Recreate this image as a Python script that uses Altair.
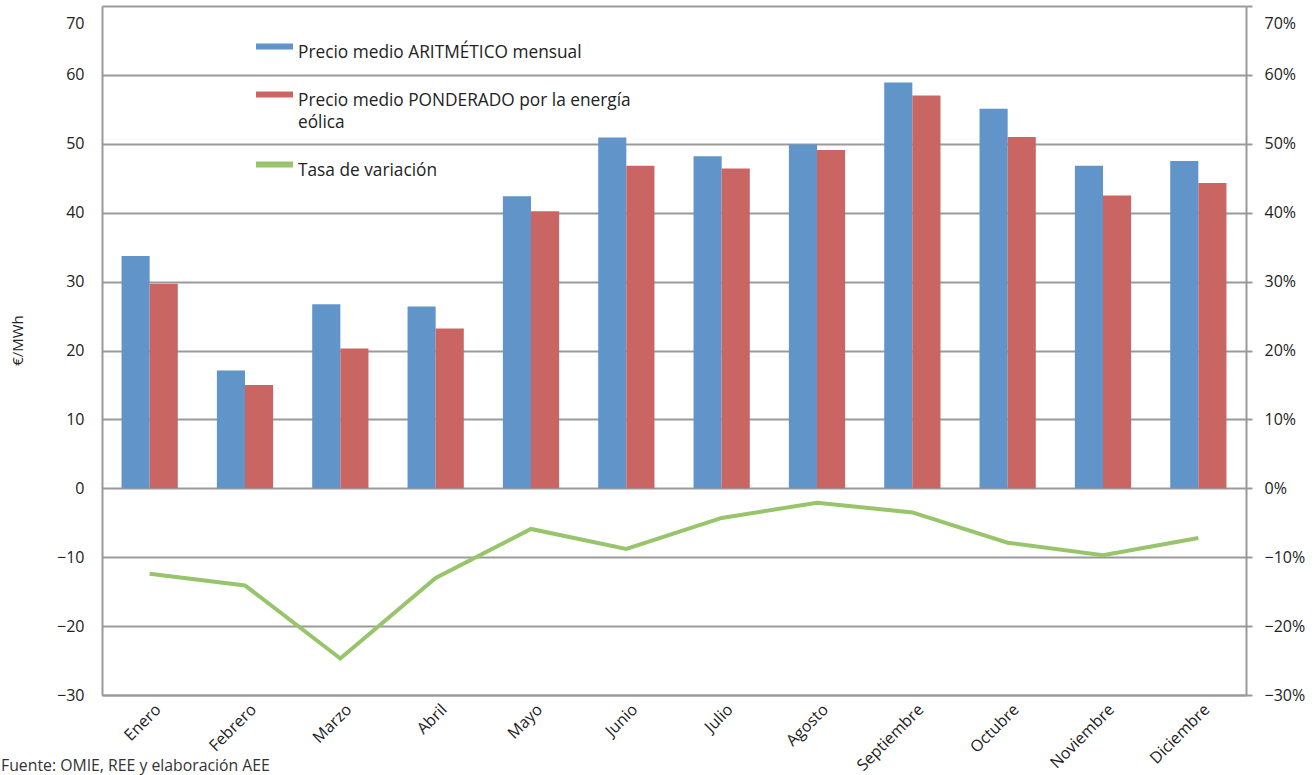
import altair as alt
import pandas as pd

# Monthly market prices (€/MWh) and the wind-weighted price gap
meses = ["Enero", "Febrero", "Marzo", "Abril", "Mayo", "Junio",
         "Julio", "Agosto", "Septiembre", "Octubre", "Noviembre", "Diciembre"]
precio_aritmetico = [33.7, 17.1, 26.7, 26.4, 42.4, 50.9, 48.2, 49.9, 58.9, 55.1, 46.8, 47.5]
precio_ponderado = [29.7, 15.0, 20.3, 23.2, 40.2, 46.8, 46.4, 49.1, 57.0, 51.0, 42.5, 44.3]
tasa_variacion = [-12.4, -14.1, -24.7, -13.0, -5.9, -8.8, -4.3, -2.1, -3.5, -7.9, -9.7, -7.2]

serie_arit = "Precio medio ARITMÉTICO mensual"
serie_pond = "Precio medio PONDERADO por la energía eólica"
serie_tasa = "Tasa de variación"
series = [serie_arit, serie_pond, serie_tasa]
colores = ["#6194c9", "#c96663", "#98c46b"]
fuente = "Fuente: OMIE, REE y elaboración AEE"

FONT = "Open Sans"
TXT = "#222222"
GRID = "#9a9a9a"

barras_df = pd.DataFrame(
    [{"mes": m, "serie": serie_arit, "valor": v} for m, v in zip(meses, precio_aritmetico)]
    + [{"mes": m, "serie": serie_pond, "valor": v} for m, v in zip(meses, precio_ponderado)]
)
tasa_df = pd.DataFrame({"mes": meses, "tasa": [t / 100 for t in tasa_variacion]})
fuente_df = pd.DataFrame({"texto": [fuente]})

x_enc = alt.X(
    "mes:N", sort=meses, title=None,
    scale=alt.Scale(paddingInner=0.41, paddingOuter=0.205),
    axis=alt.Axis(labelAngle=-45, labelFontSize=16, labelFont=FONT, labelColor=TXT,
                  domainColor=GRID, domainWidth=2, ticks=False, labelPadding=6,
                  labelOffset=3),
)

barras = alt.Chart(barras_df).mark_bar().encode(
    x=x_enc,
    xOffset=alt.XOffset("serie:N", sort=[serie_arit, serie_pond],
                        scale=alt.Scale(paddingInner=0, paddingOuter=0)),
    y=alt.Y(
        "valor:Q",
        scale=alt.Scale(domain=[-30, 70], nice=False, zero=False),
        axis=alt.Axis(
            values=list(range(-30, 71, 10)), grid=True, gridColor=GRID, gridWidth=2,
            domainColor=GRID, domainWidth=2, ticks=False,
            labelFontSize=16, labelFont=FONT, labelColor=TXT, labelPadding=18,
            labelOffset={"condition": {"test": "datum.value == 70", "value": 17}, "value": 0},
            title="€/MWh", titleFont=FONT, titleFontSize=15, titleFontWeight="normal",
            titleColor=TXT, titleAngle=-90, titleX=-85, titleY=334,
            titleAlign="center", titleBaseline="middle",
        ),
    ),
    color=alt.Color(
        "serie:N",
        scale=alt.Scale(domain=series, range=colores),
        legend=alt.Legend(
            orient="none", legendX=163, legendY=28, title=None,
            symbolType="M-2,0L2,0L2,0.65L-2,0.65Z", symbolSize=342,
            symbolStrokeWidth=0, symbolOpacity=1,
            labelFont=FONT, labelFontSize=17.3, labelColor=TXT, labelLimit=600,
            labelBaseline="top", labelOffset=14, rowPadding=21,
            labelExpr="datum.label == '" + serie_pond + "' ? ['Precio medio PONDERADO por la energía', 'eólica'] : datum.label",
        ),
    ),
)

linea = alt.Chart(tasa_df).mark_line(strokeWidth=4, color=colores[2]).encode(
    x=alt.X("mes:N", sort=meses),
    y=alt.Y(
        "tasa:Q",
        scale=alt.Scale(domain=[-0.3, 0.7], nice=False, zero=False),
        axis=alt.Axis(
            orient="right", format=".0%", values=[v / 100 for v in range(-30, 71, 10)],
            grid=False, domainColor=GRID, domainWidth=2, tickColor=GRID, tickWidth=2,
            tickSize=6, labelPadding=12, labelFontSize=16, labelFont=FONT, labelColor=TXT,
            labelOffset={"condition": {"test": "datum.value > 0.69", "value": 17}, "value": 0},
            title=None,
        ),
    ),
)

# source note under the month labels
nota = alt.Chart(fuente_df).mark_text(
    align="left", baseline="middle", font=FONT, fontSize=15.8, color="#333333"
).encode(text="texto:N", x=alt.value(-101), y=alt.value(760))

chart = (
    alt.layer(barras, linea, nota)
    .resolve_scale(y="independent")
    .properties(
        width=1144, height=689,
        autosize=alt.AutoSizeParams(type="none"),
        padding={"left": 102, "top": 6, "right": 69, "bottom": 80},
    )
    .configure_view(stroke=None)
    .configure(background="white", style={"guide-label": {"lineHeight": 22}})
)

chart.save("out.html", embed_options={"renderer": "svg", "actions": False})
